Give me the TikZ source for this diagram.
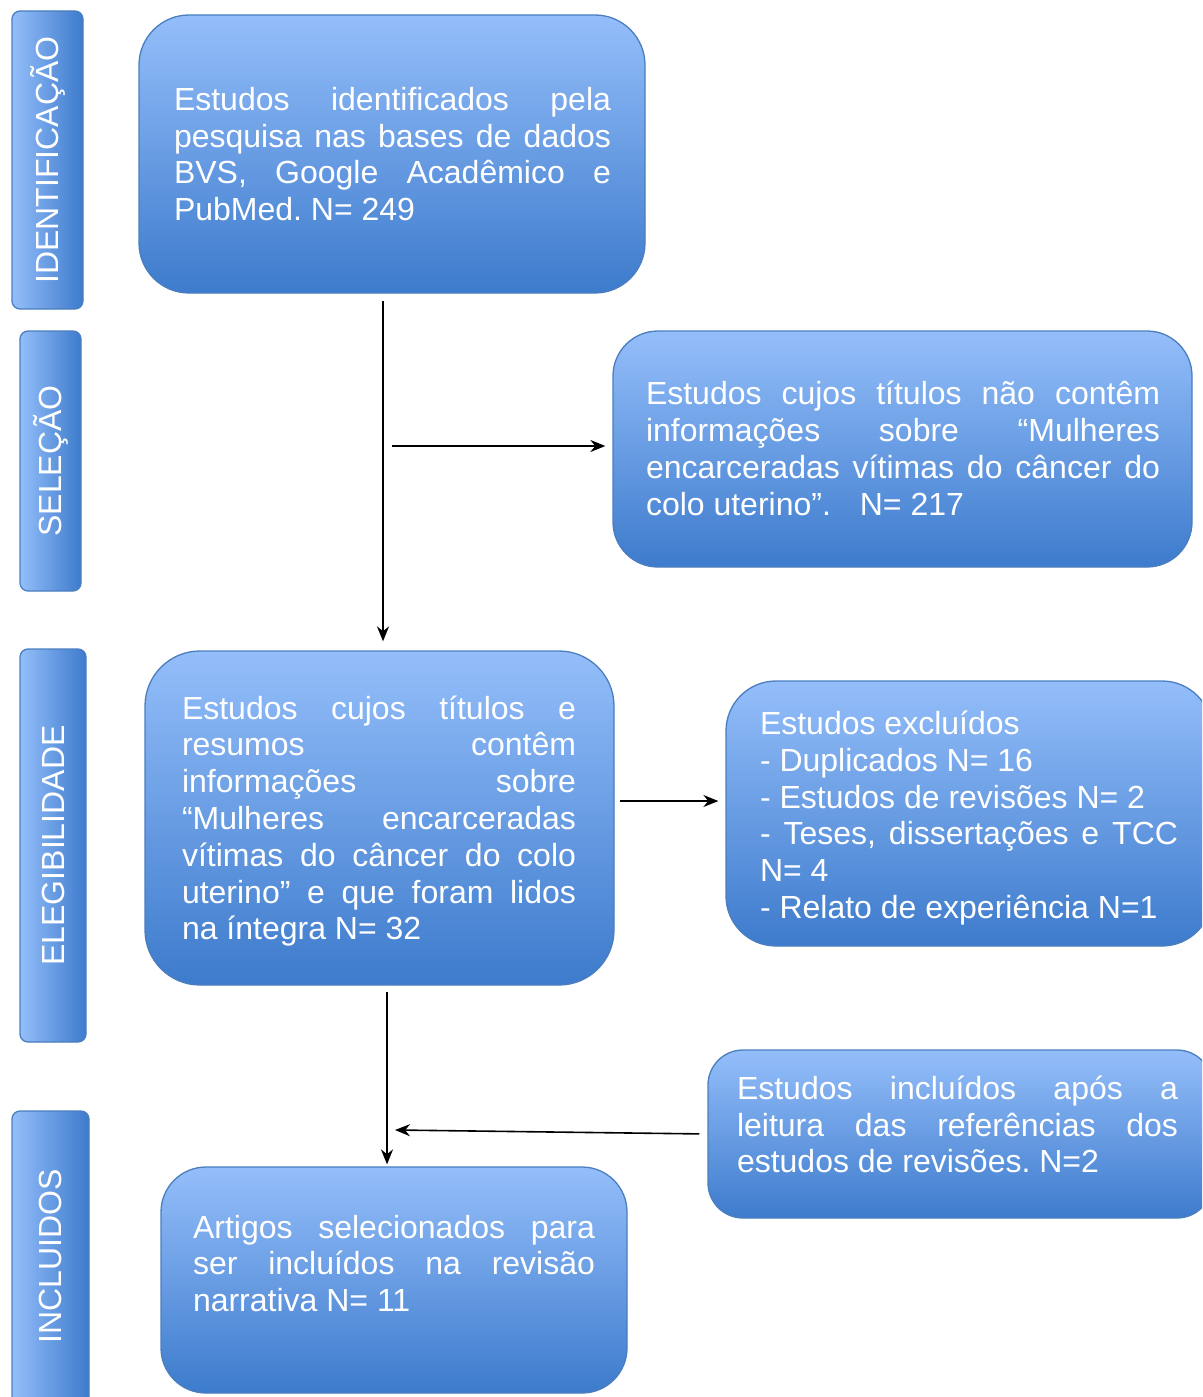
\documentclass[tikz,border=0pt]{standalone}
\usepackage{fontspec}
\setmainfont{Liberation Sans}
\usetikzlibrary{arrows.meta}
\definecolor{boxtop}{HTML}{94BEFA}
\definecolor{boxbot}{HTML}{3D7BCC}
\definecolor{boxline}{HTML}{4A7EBF}
\tikzset{
  mainbox/.style={draw=boxline, line width=1.3pt, top color=boxtop, bottom color=boxbot, inner sep=0pt, rounded corners=#1},
  sidebox/.style={draw=boxline, line width=1.3pt, left color=boxtop, right color=boxbot, inner sep=0pt, rounded corners=8pt},
  sidetext/.style={text=white, rotate=90, inner sep=0pt, font=\fontsize{32}{36.8}\selectfont},
  bodytext/.style={text=white, align=justify, inner sep=0pt, font=\fontsize{32}{36.8}\selectfont,
    execute at begin node={\frenchspacing\tolerance=10000 \hyphenpenalty=10000 }},
  arr/.style={draw=black, line width=1.6pt, -{Stealth[length=15pt,width=12pt]}}
}
\begin{document}
\begin{tikzpicture}[x=1pt,y=-1pt]
\clip (0,0) rectangle (1202,1397);
\fill[white] (0,0) rectangle (1202,1397);
% side boxes
\node[sidebox, minimum width=71pt, minimum height=298pt] (s1) at (47.5,160) {};
\node[sidetext] (s1t) at (s1.center) {IDENTIFICAÇÃO};
\node[sidebox, minimum width=61pt, minimum height=260pt] (s2) at (50.5,461) {};
\node[sidetext] (s2t) at (s2.center) {SELEÇÃO};
\node[sidebox, minimum width=66pt, minimum height=393pt] (s3) at (53,845.5) {};
\node[sidetext] (s3t) at (s3.center) {ELEGIBILIDADE};
\node[sidebox, minimum width=77pt, minimum height=299pt] (s4) at (50.5,1260.5) {};
\node[sidetext] (s4t) at (50.5,1256) {INCLUIDOS};
% main boxes
\node[mainbox=50pt, minimum width=506pt, minimum height=278pt] (b1) at (392,154) {};
\node[mainbox=45pt, minimum width=579pt, minimum height=236pt] (b2) at (902.5,449) {};
\node[mainbox=55pt, minimum width=469pt, minimum height=334pt] (b3) at (379.5,818) {};
\node[mainbox=50pt, minimum width=486pt, minimum height=265pt] (b4) at (969,813.5) {};
\node[mainbox=35pt, minimum width=504pt, minimum height=168pt] (b5) at (960,1134) {};
\node[mainbox=45pt, minimum width=466pt, minimum height=226pt] (b6) at (394,1280) {};
% texts
\node[bodytext, text width=437pt] (t1) at (392.5,154) {Estudos identificados pela\linebreak pesquisa nas bases de dados\linebreak BVS, Google Acadêmico e\linebreak PubMed. N= 249};
\node[bodytext, text width=514pt] (t2) at (903,448.5) {Estudos cujos títulos não contêm\linebreak informações sobre “Mulheres\linebreak encarceradas vítimas do câncer do\linebreak colo uterino”.\hspace{20pt} N= 217};
\node[bodytext, text width=394pt] (t3) at (379,821) {Estudos cujos títulos e\linebreak resumos contêm\linebreak informações sobre\linebreak “Mulheres encarceradas\linebreak vítimas do câncer do colo\linebreak uterino” e que foram lidos\linebreak na íntegra N= 32};
\node[bodytext, text width=418pt] (t4) at (969,818) {Estudos excluídos\\ - Duplicados N= 16\\ - Estudos de revisões N= 2\\ - Teses, dissertações e TCC\linebreak N= 4\\ - Relato de experiência N=1};
\node[bodytext, text width=441pt] (t5) at (957.5,1124.5) {Estudos incluídos após a\linebreak leitura das referências dos\linebreak estudos de revisões. N=2};
\node[bodytext, text width=402pt] (t6) at (394,1263.5) {Artigos selecionados para\linebreak ser incluídos na revisão\linebreak narrativa N= 11};
% connectors
\coordinate (xA) at (383,0);
\draw[arr, shorten <=7pt, shorten >=9pt] (b1.south -| xA) -- (b3.north -| xA);
\coordinate (hA) at (392,446);
\draw[arr, shorten >=7pt] (hA) -- (hA -| b2.west);
\coordinate (yB) at (0,801);
\draw[arr, shorten <=5pt, shorten >=7pt] (b3.east |- yB) -- (b4.west |- yB);
\coordinate (xC) at (387,0);
\draw[arr, shorten <=6pt, shorten >=2pt] (b3.south -| xC) -- (b6.north -| xC);
\coordinate (mD) at (395,1130);
\draw[arr, shorten <=8pt] (b5.west) -- (mD);
\end{tikzpicture}
\end{document}
